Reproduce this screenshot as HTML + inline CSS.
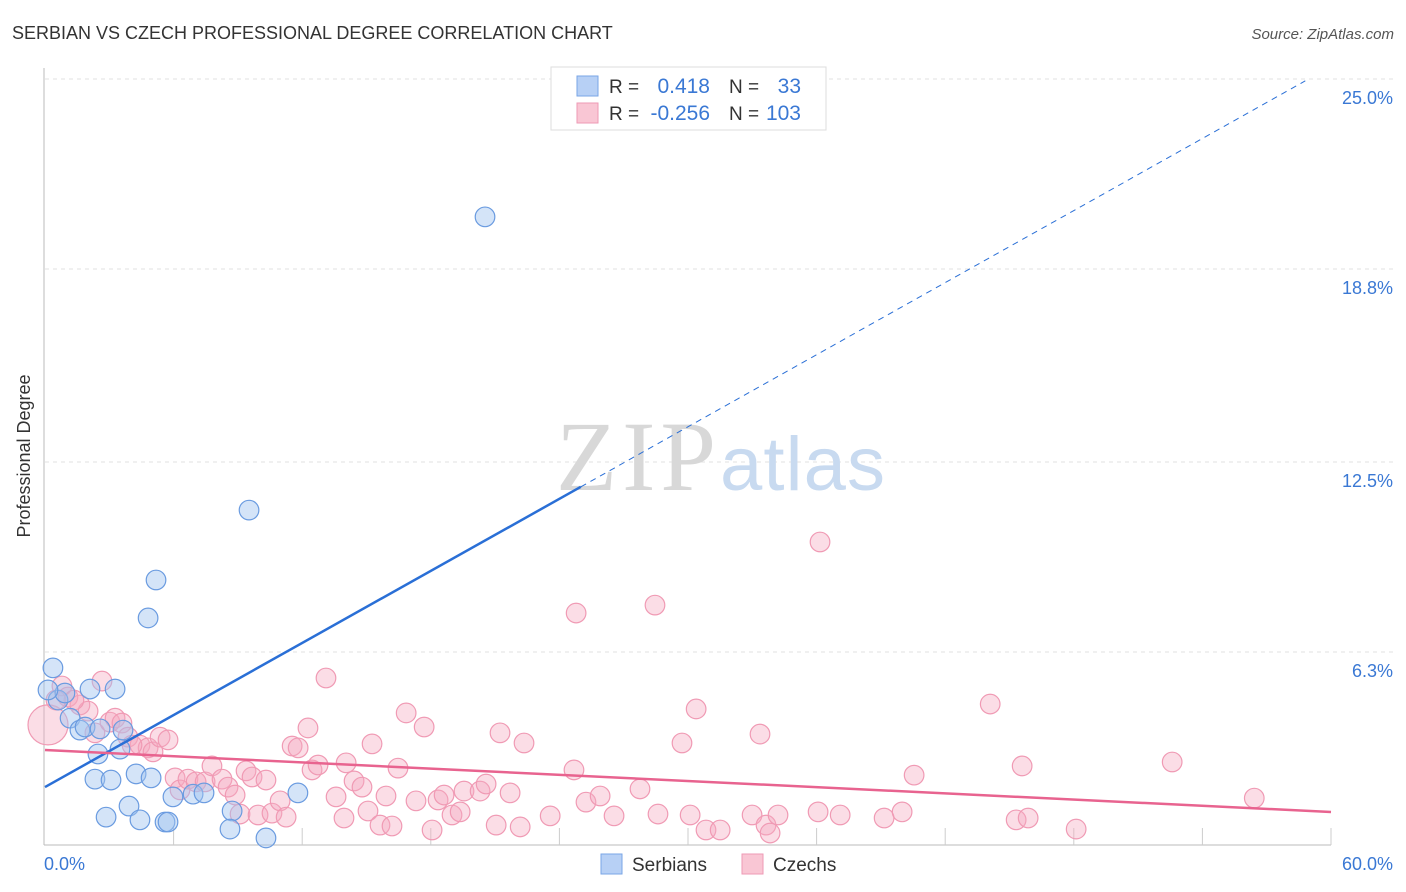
<!DOCTYPE html>
<html><head><meta charset="utf-8"><style>
body{margin:0;background:#fff;font-family:"Liberation Sans",sans-serif;}
svg{display:block}
</style></head><body>
<svg width="1406" height="892" xmlns="http://www.w3.org/2000/svg">
<text x="12" y="39" font-size="18" fill="#333">SERBIAN VS CZECH PROFESSIONAL DEGREE CORRELATION CHART</text>
<text x="1394" y="39" font-size="15" fill="#555" font-style="italic" text-anchor="end">Source: ZipAtlas.com</text>
<text x="30" y="456" font-size="18" fill="#333" text-anchor="middle" transform="rotate(-90 30 456)">Professional Degree</text>
<g id="grid"></g>
<g id="axes"></g>
<text x="716" y="490" font-size="100" fill="#d8d8d8" font-family="Liberation Serif,serif" text-anchor="end" textLength="160">ZIP</text>
<text x="720" y="490" font-size="76" fill="#c8daf0" textLength="165">atlas</text>
<g id="pts"></g>
<g id="lines"></g>
<g>
<rect x="551" y="67" width="275" height="63" fill="#fff" stroke="#ddd"/>
<rect x="577" y="76" width="21" height="20" fill="#b7d0f5" stroke="#7aa6e6"/>
<rect x="577" y="103" width="21" height="20" fill="#f9c6d4" stroke="#ee9ab5"/>
<text x="609" y="93" font-size="19" fill="#333">R =</text>
<text x="710" y="93" font-size="21" fill="#3a78d4" text-anchor="end">0.418</text>
<text x="729" y="93" font-size="19" fill="#333">N =</text>
<text x="801" y="93" font-size="21" fill="#3a78d4" text-anchor="end">33</text>
<text x="609" y="120" font-size="19" fill="#333">R =</text>
<text x="710" y="120" font-size="21" fill="#3a78d4" text-anchor="end">-0.256</text>
<text x="729" y="120" font-size="19" fill="#333">N =</text>
<text x="801" y="120" font-size="21" fill="#3a78d4" text-anchor="end">103</text>
</g>
<g>
<rect x="601" y="854" width="21" height="20" fill="#b7d0f5" stroke="#7aa6e6"/>
<text x="632" y="871" font-size="19" fill="#333">Serbians</text>
<rect x="742" y="854" width="21" height="20" fill="#f9c6d4" stroke="#ee9ab5"/>
<text x="773" y="871" font-size="19" fill="#333">Czechs</text>
</g>
</svg>
<script>
const yTicks=[6.3,12.5,18.8,25.0];
const xTickLabels=["0.0%","60.0%"];
const serbX=[0.37,2.1,3.27,0.61,0.93,1.17,1.63,1.87,2.57,2.47,3.5,2.33,3.08,4.25,4.95,3.92,2.85,4.43,5.6,5.74,5.97,6.91,7.42,8.73,8.63,11.8,10.31,9.52,5.18,4.81,20.53,3.64,0.14];
const serbY=[5.78,5.09,5.09,4.73,4.96,4.14,3.75,3.85,3.79,2.97,3.13,2.15,2.12,2.32,2.19,1.27,0.91,0.82,0.75,0.75,1.57,1.66,1.7,1.11,0.52,1.7,0.23,10.93,8.65,7.41,20.5,3.75,5.06];
const czX=[0.14,0.79,1.07,1.63,2.01,2.66,2.33,3.03,3.27,3.59,3.87,4.43,4.81,5.04,5.37,5.74,6.07,6.3,6.67,7.05,7.47,7.79,8.26,8.54,8.87,9.1,9.38,9.66,9.94,10.31,10.59,10.97,11.25,11.53,11.81,12.27,12.46,12.74,13.11,13.58,13.95,14.05,14.42,14.79,15.07,15.26,15.63,15.91,16.19,16.47,16.85,17.31,17.69,18.06,18.34,18.62,18.99,19.37,19.55,20.3,20.58,21.05,21.23,21.7,22.17,22.35,23.57,24.68,24.78,25.24,25.9,26.55,27.76,28.46,28.6,29.72,30.1,30.38,30.84,31.5,32.99,33.36,33.64,33.83,34.2,36.07,36.16,37.1,39.15,39.99,40.55,44.1,45.31,45.59,45.87,48.11,52.59,56.42,0.51,1.35,4.06];
const czY=[3.92,5.19,4.83,4.57,4.37,5.35,3.66,4.01,4.14,3.98,3.52,3.26,3.17,3.04,3.52,3.43,2.19,1.8,2.15,2.06,2.06,2.58,2.15,1.89,1.63,1.01,2.42,2.22,0.98,2.12,1.04,1.44,0.91,3.23,3.17,3.82,2.45,2.61,5.45,1.57,0.88,2.68,2.09,1.89,1.11,3.3,0.65,1.6,0.62,2.51,4.31,1.44,3.85,0.49,1.47,1.63,0.98,1.08,1.76,1.76,1.99,0.65,3.66,1.7,0.59,3.33,0.95,2.45,7.57,1.4,1.6,0.95,1.83,7.83,1.01,3.33,0.98,4.44,0.49,0.49,0.98,3.62,0.65,0.39,0.98,1.08,9.89,0.98,0.88,1.08,2.28,4.6,0.82,2.58,0.88,0.52,2.71,1.53,4.73,4.73,3.26];
const serbTrend=[1.89,0.392]; // intercept, slope
const czTrend=[3.1,-0.0337];
const NS="http://www.w3.org/2000/svg";
const X0=45,X1=1331,Y0=845,Y25=79;
const sx=v=>X0+(X1-X0)*v/60;
const sy=v=>Y0-(Y0-Y25)*v/25;
function mk(t,a,p){const e=document.createElementNS(NS,t);for(const k in a)e.setAttribute(k,a[k]);p.appendChild(e);return e;}
const grid=document.getElementById('grid'),axes=document.getElementById('axes'),pts=document.getElementById('pts'),lines=document.getElementById('lines');
yTicks.forEach(t=>{
  const l=mk('line',{x1:X0,x2:1394,y1:sy(t),y2:sy(t),stroke:'#e2e2e2','stroke-dasharray':'4,4'},grid);
  
  
  const tx=mk('text',{x:1393,y:sy(t)+25,'font-size':18,fill:'#3a78d4','text-anchor':'end'},grid);
  tx.textContent=t.toFixed(1)+'%';
  
  
});
const ya=mk('line',{x1:44,x2:44,y1:68,y2:Y0,stroke:'#bbb'},axes);


const xa=mk('line',{x1:44,x2:X1,y1:Y0,y2:Y0,stroke:'#bbb'},axes);


for(let i=1;i<=10;i++){const tk=mk('line',{x1:sx(i*6),x2:sx(i*6),y1:Y0-17,y2:Y0,stroke:'#ccc'},axes);

}
[[xTickLabels[0],44,'start'],[xTickLabels[1],1393,'end']].forEach(([s,x,a])=>{const t=mk('text',{x:x,y:870,'font-size':18,fill:'#3a78d4','text-anchor':a},axes);t.textContent=s;

});
czX.forEach((v,i)=>{const c=mk('circle',{cx:sx(v),cy:sy(czY[i]),r:i==0?20:9.8,fill:'rgba(246,170,192,0.4)',stroke:'#f09ab4','stroke-width':1.2},pts);

});
serbX.forEach((v,i)=>{const c=mk('circle',{cx:sx(v),cy:sy(serbY[i]),r:9.8,fill:'rgba(160,196,240,0.45)',stroke:'#6a9be0','stroke-width':1.2},pts);

});
const bt=x=>serbTrend[0]+serbTrend[1]*x;
const b1=mk('line',{x1:sx(0),y1:sy(bt(0)),x2:sx(25),y2:sy(bt(25)),stroke:'#2a6fd6','stroke-width':2.5},lines);


const b2=mk('line',{x1:sx(25),y1:sy(bt(25)),x2:sx(58.8),y2:sy(bt(58.8)),stroke:'#2a6fd6','stroke-width':1,'stroke-dasharray':'6,5'},lines);


const ct=x=>czTrend[0]+czTrend[1]*x;
const c1=mk('line',{x1:sx(0),y1:sy(ct(0)),x2:sx(60),y2:sy(ct(60)),stroke:'#e8638f','stroke-width':2.5},lines);


</script>
</body></html>
